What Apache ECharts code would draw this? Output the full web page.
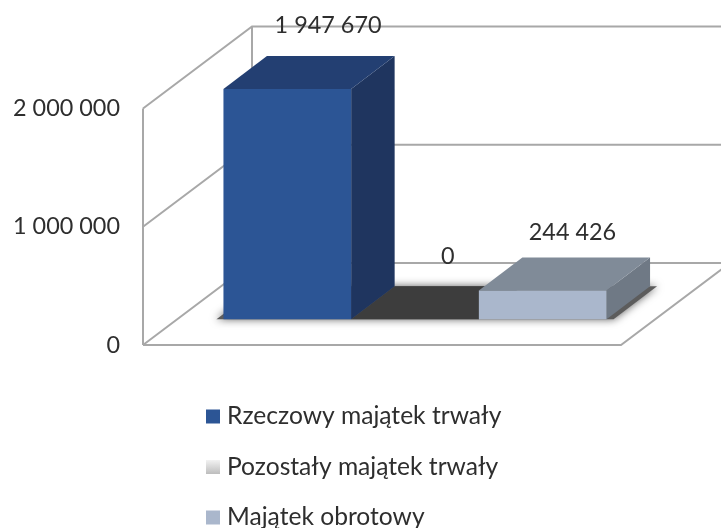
<!DOCTYPE html>
<html>
<head>
<meta charset="utf-8">
<style>html,body{margin:0;padding:0;background:#fff}#chart{width:721px;height:528px}</style>
<script src="https://cdn.jsdelivr.net/npm/echarts@6/dist/echarts.min.js"></script>
</head>
<body>
<div id="chart"></div>
<script>
var seriesNames = ['Rzeczowy majątek trwały', 'Pozostały majątek trwały', 'Majątek obrotowy'];
var seriesValues = [1947670, 0, 244426];
var valueLabels = ['1 947 670', '0', '244 426'];
var yTicks = [0, 1000000, 2000000];
var yTickLabels = ['0', '1 000 000', '2 000 000'];

// colours of each box: front, top, side
var frontColors = ['#2c5595', '#3d3d3d', '#aab7cc'];
var topColors = ['#233f72', '#3d3d3d', '#808b98'];
var sideColors = ['#1f355f', '#3d3d3d', '#6f7985'];
var legendColors = ['#2c5595', null, '#aab7cc'];

// fake 3d geometry, pixels
var wallDepth = [109, -82];
var barDepth = [43.5, -33];
var barShift = [33, -25.7];
var barWidth = 127.7;
var labelNudge = [[19, -47], [11, -46], [8, -41]];

var font = 'Lato, sans-serif';
var textColor = '#2e2e2e';
var lineColor = '#a8a8a8';

function poly(points, fill, z) {
    return { type: 'polygon', z2: z || 0, shape: { points: points }, style: { fill: fill } };
}

function frameLine(points) {
    return { type: 'polyline', shape: { points: points }, style: { fill: 'none', stroke: lineColor, lineWidth: 2 } };
}

function renderFrame(params, api) {
    var y = api.coord([0, api.value(1)])[1];
    var x0 = params.coordSys.x;
    var x1 = x0 + params.coordSys.width;
    var dx = wallDepth[0], dy = wallDepth[1];
    var kids = [frameLine([[x0, y], [x0 + dx, y + dy], [x1 + dx, y + dy]])];
    if (api.value(1) === 0) {
        var top = params.coordSys.y;
        kids.push(frameLine([[x0, y], [x1, y], [x1 + dx, y + dy]]));
        kids.push(frameLine([[x0, top], [x0, y]]));
        kids.push(frameLine([[x0 + dx, top + dy], [x0 + dx, y + dy]]));
    }
    return { type: 'group', children: kids };
}

function renderShadow(params, api) {
    var p = api.coord([0, 0]);
    var cx = p[0] + barShift[0], y = p[1] + barShift[1];
    var half = barWidth * seriesValues.length / 2 + 7;
    return {
        type: 'polygon',
        shape: { points: [[cx - half, y], [cx + half, y], [cx + half + barDepth[0], y + barDepth[1]], [cx - half + barDepth[0], y + barDepth[1]]] },
        style: { fill: '#5c5c5c', shadowBlur: 9, shadowColor: '#5c5c5c' }
    };
}

function makeBarRenderer(i) {
    return function (params, api) {
        var base = api.coord([0, 0]);
        var top = api.coord([0, api.value(1)]);
        var x0 = base[0] - barWidth * seriesValues.length / 2 + barWidth * i + barShift[0];
        var x1 = x0 + barWidth;
        var yb = base[1] + barShift[1];
        var yt = top[1] + barShift[1];
        var dx = barDepth[0], dy = barDepth[1];
        var kids = [
            poly([[x1, yt], [x1 + dx, yt + dy], [x1 + dx, yb + dy], [x1, yb]], sideColors[i]),
            poly([[x0, yt], [x1, yt], [x1 + dx, yt + dy], [x0 + dx, yt + dy]], topColors[i])
        ];
        if (yb - yt > 0) {
            kids.push(poly([[x0, yt], [x1, yt], [x1, yb], [x0, yb]], frontColors[i]));
        }
        kids.push({
            type: 'text',
            z2: 5,
            style: {
                text: valueLabels[i],
                x: (x0 + x1) / 2 + dx / 2 + labelNudge[i][0],
                y: yt + dy / 2 + labelNudge[i][1],
                align: 'center',
                verticalAlign: 'middle',
                fill: textColor,
                font: '23.4px ' + font
            }
        });
        return { type: 'group', children: kids };
    };
}

var series = [
    { type: 'custom', name: 'frame', silent: true, z: 1, data: yTicks.map(function (t) { return [0, t]; }), renderItem: renderFrame },
    { type: 'custom', name: 'shadow', silent: true, z: 2, data: [[0, 0]], renderItem: renderShadow }
];
seriesNames.forEach(function (name, i) {
    series.push({
        type: 'custom',
        name: name,
        z: i === 1 ? 3 : 4,
        data: [[0, seriesValues[i]]],
        itemStyle: { color: frontColors[i] },
        renderItem: makeBarRenderer(i)
    });
});

var chart = echarts.init(document.getElementById('chart'), null, { renderer: 'canvas' });
chart.setOption({
    animation: false,
    backgroundColor: '#fff',
    grid: { left: 143, top: 108.5, width: 478, height: 236.5 },
    xAxis: { type: 'category', data: [''], show: false },
    yAxis: {
        type: 'value',
        min: 0,
        max: 2000000,
        interval: 1000000,
        axisLine: { show: false },
        axisTick: { show: false },
        splitLine: { show: false },
        axisLabel: {
            margin: 23,
            fontFamily: font,
            fontSize: 23.4,
            color: textColor,
            padding: [5, 0, 0, 0],
            formatter: function (v) { return yTickLabels[yTicks.indexOf(v)]; }
        }
    },
    legend: {
        orient: 'vertical',
        left: 206,
        top: 404,
        height: 170,
        padding: 0,
        itemWidth: 14,
        itemHeight: 14,
        itemGap: 25.5,
        textStyle: { fontFamily: font, fontSize: 24.6, color: textColor, padding: [0, 0, 0, 2] },
        data: seriesNames.map(function (name, i) {
            return {
                name: name,
                icon: 'rect',
                itemStyle: {
                    color: legendColors[i] || new echarts.graphic.LinearGradient(0, 0, 0, 1, [
                        { offset: 0, color: '#f2f2f2' },
                        { offset: 1, color: '#bdbdbd' }
                    ])
                }
            };
        })
    },
    series: series
});
</script>
</body>
</html>
